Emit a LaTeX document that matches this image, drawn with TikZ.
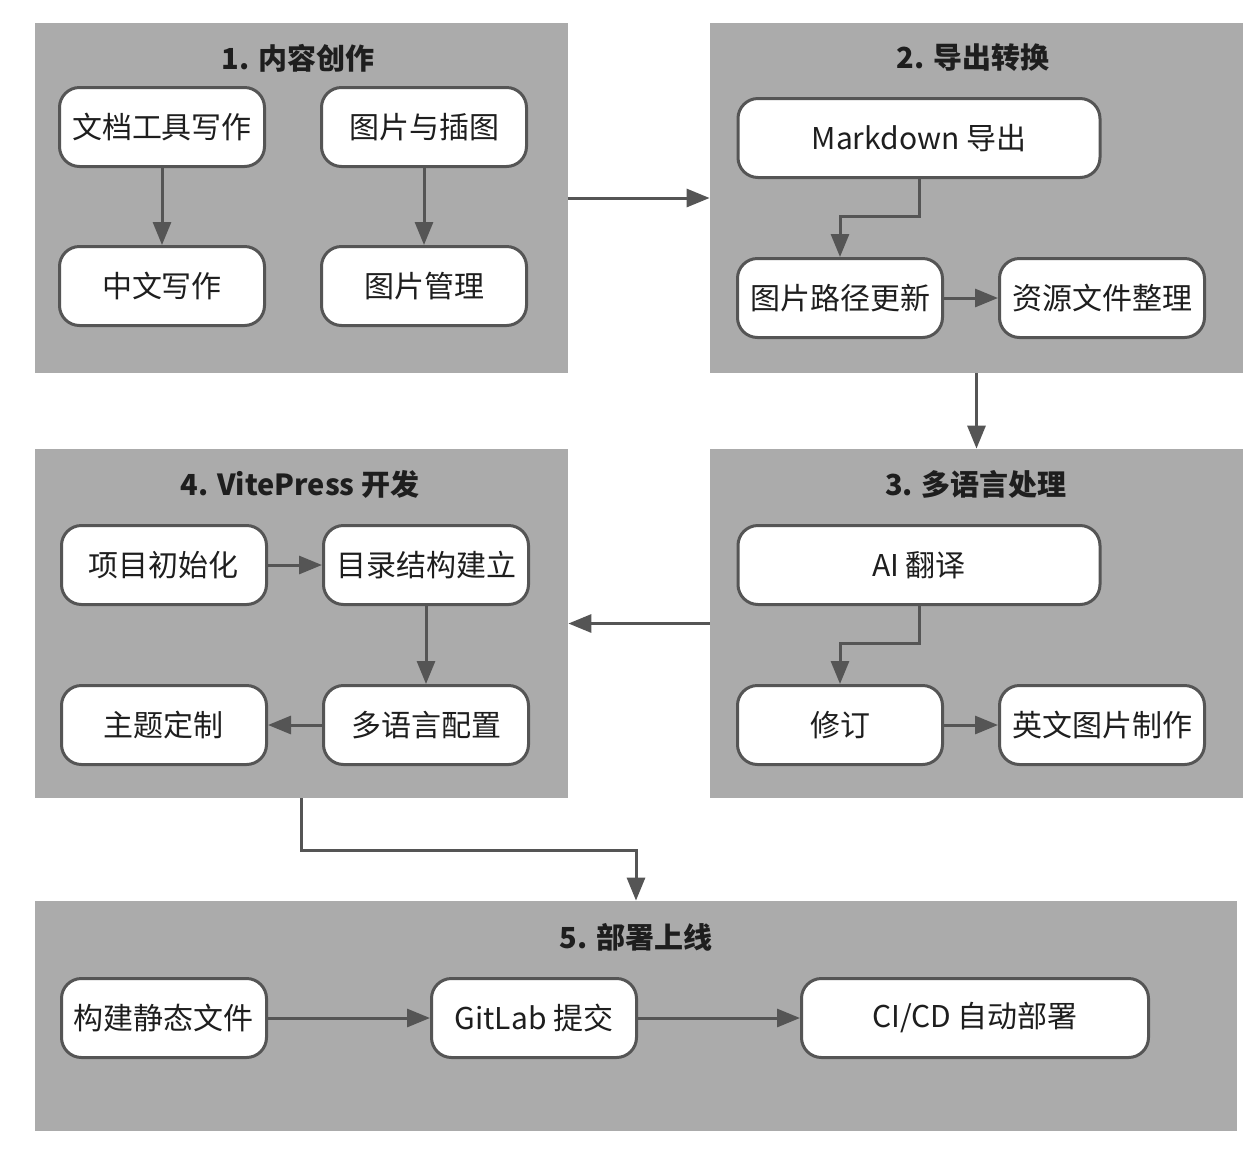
\documentclass[tikz,border=0pt]{standalone}
\usepackage{fontspec}
\setmainfont{Noto Sans CJK SC}
\usepackage{tikz}
\usetikzlibrary{arrows.meta,positioning,calc}
\definecolor{groupgray}{RGB}{171,171,171}
\definecolor{edgegray}{RGB}{85,85,85}
\definecolor{inkdark}{RGB}{30,30,30}

\begin{document}
\begin{tikzpicture}[
    x=0.5pt, y=-0.5pt,
    group/.style={fill=groupgray, inner sep=0pt},
    task/.style={draw=edgegray, line width=1.5pt, fill=white, rounded corners=10pt, minimum width=102.5pt, minimum height=39.5pt, inner sep=2pt, font=\fontsize{15}{18}\selectfont, text=inkdark},
    wide/.style={task, minimum width=181pt},
    title/.style={font=\fontsize{14.5}{17}\selectfont\bfseries, text=inkdark},
    flow/.style={draw=edgegray, line width=1.5pt, -{Triangle[length=11.5pt,width=9pt]}}
]
\useasboundingbox[fill=white] (0,0) rectangle (1250,1158);

% stage backgrounds
\node[group, minimum width=266.5pt, minimum height=175pt] (c1) at (301.5,198) {};
\node[group, minimum width=266.5pt, minimum height=175pt] (c2) at (976.5,198) {};
\node[group, minimum width=266.5pt, minimum height=174.5pt] (c3) at (976.5,623.5) {};
\node[group, minimum width=266.5pt, minimum height=174.5pt] (c4) at (301.5,623.5) {};
\node[group, minimum width=601pt, minimum height=115pt] (c5) at (636,1016) {};

\node[title] (t1) at (298,58) {1. 内容创作};
\node[title] (t2) at (973,58) {2. 导出转换};
\node[title] (t3) at (976,484) {3. 多语言处理};
\node[title] (t4) at (300,484) {4. VitePress 开发};
\node[title] (t5) at (636,937) {5. 部署上线};

\draw[flow] (c1.east) -- (c2.west);
\draw[flow] (c2.south) -- (c3.north);
\draw[flow] (c3.west) -- (c4.east);
\draw[flow] (c4.south) -- ++(0,52) -| (c5.north);

% 1
\node[task] (doc) at (162,127) {文档工具写作};
\node[task] (pics) at (424,127) {图片与插图};
\node[task] (zh) at (162,286) {中文写作};
\node[task] (picmgr) at (424,286) {图片管理};
\draw[flow] (doc) -- (zh);
\draw[flow] (pics) -- (picmgr);

% 2
\node[wide] (md) at (919,138) {Markdown 导出};
\node[task] (path) at (840,298) {图片路径更新};
\node[task] (res) at (1102,298) {资源文件整理};
\draw[flow] (md.south) -- ++(0,37) -| (path.north);
\draw[flow] (path) -- (res);

% 3
\node[wide] (ai) at (919,565) {AI 翻译};
\node[task] (rev) at (840,725) {修订};
\node[task] (enpic) at (1102,725) {英文图片制作};
\draw[flow] (ai.south) -- ++(0,37) -| (rev.north);
\draw[flow] (rev) -- (enpic);

% 4
\node[task] (init) at (164,565) {项目初始化};
\node[task] (dirs) at (426,565) {目录结构建立};
\node[task] (theme) at (164,725) {主题定制};
\node[task] (i18n) at (426,725) {多语言配置};
\draw[flow] (init) -- (dirs);
\draw[flow] (dirs) -- (i18n);
\draw[flow] (i18n) -- (theme);

% 5
\node[task] (build) at (164,1018) {构建静态文件};
\node[task] (git) at (534,1018) {GitLab 提交};
\node[task, minimum width=173.5pt] (cicd) at (975,1018) {CI/CD 自动部署};
\draw[flow] (build) -- (git);
\draw[flow] (git) -- (cicd);
\end{tikzpicture}
\end{document}
